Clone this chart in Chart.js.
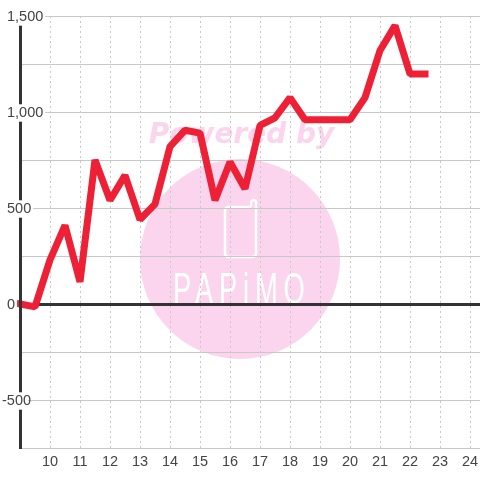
<!DOCTYPE html>
<html>
<head>
<meta charset="utf-8">
<script src="https://cdn.jsdelivr.net/npm/chart.js@4"></script>
<style>html,body{margin:0;padding:0;background:#fff}canvas{display:block}</style>
</head>
<body>
<canvas id="c" width="480" height="480"></canvas>
<script>
const hours = [9,9.5,10,10.5,11,11.5,12,12.5,13,13.5,14,14.5,15,15.5,16,16.5,17,17.5,18,18.5,19,19.5,20,20.5,21,21.5,22,22.5];
const values = [0,-15,230,410,115,750,540,670,440,520,820,905,890,540,740,600,930,970,1075,960,960,960,960,1075,1320,1450,1198,1198];
const xTicks = [10,11,12,13,14,15,16,17,18,19,20,21,22,23,24];
const watermarkTop = "Powered by";
const watermarkBottom = "PAPiMO";

const watermark = {
  id: 'watermark',
  afterUpdate(chart) {
    chart.scales.y.getLabelItems().forEach(item => {
      const t = item.options.translation;
      const hang = String(item.label).startsWith('-') ? 5 : 0;
      t[0] -= hang;
      t[1] += 1;
      if (item.options.backdrop) {
        item.options.backdrop.left -= hang;
      }
    });
  },
  beforeDraw(chart) {
    const g = chart.ctx;
    g.save();
    g.fillStyle = '#fff';
    g.fillRect(0, 0, 480, 480);
    g.fillStyle = '#fbd5ed';
    g.beginPath();
    g.arc(240, 259, 100, 0, Math.PI * 2);
    g.fill();
    g.font = 'italic bold 28px "DejaVu Sans"';
    g.textAlign = 'center';
    g.textBaseline = 'middle';
    g.fillText(watermarkTop, 241.5, 136);
    g.strokeStyle = '#fff';
    g.lineWidth = 2.5;
    g.lineJoin = 'round';
    g.beginPath();
    g.moveTo(251, 207);
    g.lineTo(229, 207);
    g.quadraticCurveTo(225, 207, 225, 211);
    g.lineTo(225, 253);
    g.quadraticCurveTo(225, 257, 229, 257);
    g.lineTo(252, 257);
    g.quadraticCurveTo(256, 257, 256, 253);
    g.lineTo(256, 202);
    g.quadraticCurveTo(256, 200, 253, 200);
    g.quadraticCurveTo(251, 200, 251, 207);
    g.stroke();
    g.fillStyle = '#fff';
    g.font = '44px "Liberation Sans"';
    g.textAlign = 'left';
    g.textBaseline = 'alphabetic';
    g.letterSpacing = '9.4px';
    g.save();
    g.translate(173, 304);
    g.scale(0.62, 1);
    g.fillText(watermarkBottom, 0, 0);
    g.restore();
    g.restore();
  }
};

new Chart(document.getElementById('c'), {
  type: 'line',
  data: {
    datasets: [{
      data: hours.map((h, i) => ({ x: h, y: values[i] })),
      borderColor: '#ee2036',
      borderWidth: 7,
      borderJoinStyle: 'bevel',
      borderCapStyle: 'square',
      pointRadius: 0,
      tension: 0,
      fill: false,
      clip: false
    }]
  },
  plugins: [watermark],
  options: {
    responsive: false,
    animation: false,
    devicePixelRatio: 1,
    layout: { padding: { left: 20, right: 0, top: 16, bottom: 0 }, autoPadding: false },
    plugins: { legend: { display: false }, tooltip: { enabled: false }, title: { display: false } },
    scales: {
      x: {
        type: 'linear',
        min: 9,
        max: 24.3333,
        afterFit(s) { s.height = 32; s.paddingRight = 0; s.paddingLeft = 0; },
        afterBuildTicks(s) { s.ticks = xTicks.map(v => ({ value: v })); },
        border: { display: false, dash: [2, 3] },
        grid: { color: '#c8c8c8', lineWidth: 1, drawTicks: false },
        ticks: {
          autoSkip: false,
          maxRotation: 0,
          padding: 5,
          color: '#444',
          font: { family: '"Liberation Sans"', size: 14.5 },
          callback: v => String(v)
        }
      },
      y: {
        min: -750,
        max: 1500,
        afterFit(s) { s.width = 0; },
        border: { display: true, color: '#333', width: 3, z: 1 },
        grid: {
          z: 0,
          drawTicks: false,
          color: c => c.tick && c.tick.value === 0 ? '#333' : '#c8c8c8',
          lineWidth: c => c.tick && c.tick.value === 0 ? 3 : 1
        },
        ticks: {
          z: 2,
          stepSize: 250,
          mirror: true,
          padding: -13,
          color: '#444',
          font: { family: '"Liberation Sans"', size: 14.5 },
          showLabelBackdrop: c => c.tick.value % 500 === 0,
          backdropColor: '#fff',
          backdropPadding: { left: 1, right: 2, top: 0, bottom: 0 },
          callback: v => v % 500 === 0 ? v.toLocaleString('en-US') : ''
        }
      }
    }
  }
});
</script>
</body>
</html>
